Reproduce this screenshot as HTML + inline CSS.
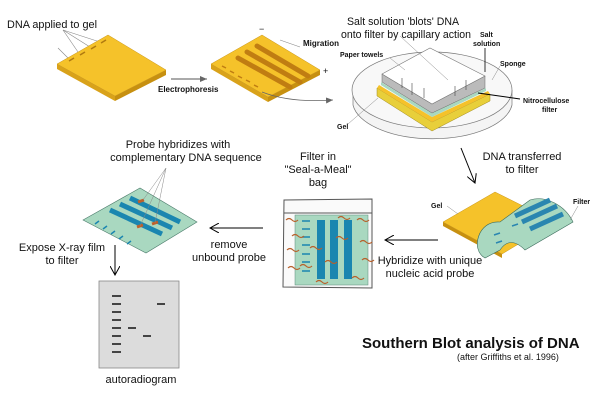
<!DOCTYPE html>
<html><head><meta charset="utf-8"><style>
html,body{margin:0;padding:0;background:#fff;}
svg{display:block;}
text{font-family:"Liberation Sans",sans-serif;fill:#111;}
</style></head><body>
<svg width="600" height="400" viewBox="0 0 600 400" xmlns="http://www.w3.org/2000/svg">
<defs>
<marker id="ah" markerWidth="10" markerHeight="10" refX="9" refY="5" orient="auto" markerUnits="userSpaceOnUse">
<path d="M0,0 L9,5 L0,10" fill="none" stroke="#000" stroke-width="1"/></marker>
<marker id="ahs" markerWidth="8" markerHeight="8" refX="7" refY="4" orient="auto" markerUnits="userSpaceOnUse">
<path d="M0,1 L7,4 L0,7 z" fill="#666"/></marker>
</defs>

<!-- Gel 1 -->
<text x="7" y="28" font-size="11" textLength="90" lengthAdjust="spacingAndGlyphs">DNA applied to gel</text>
<g stroke="#888" stroke-width="0.6">
<line x1="63" y1="30" x2="78" y2="52"/><line x1="63" y1="30" x2="90" y2="47"/><line x1="63" y1="30" x2="100" y2="42"/>
<line x1="58" y1="48" x2="68" y2="58"/>
</g>
<polygon points="57,64 57,69 115,101 115,96" fill="#d9a21a"/>
<polygon points="115,96 115,101 166,75 166,70" fill="#c79010"/>
<polygon points="57,64 108,35 166,70 115,96" fill="#f5c22a" stroke="#c9961a" stroke-width="0.5"/>
<g stroke="#b07a10" stroke-width="1.5"><line x1="69" y1="61" x2="74" y2="58"/><line x1="80" y1="55" x2="85" y2="52"/><line x1="91" y1="49" x2="96" y2="46"/><line x1="101" y1="43" x2="106" y2="40"/></g>
<line x1="171" y1="79" x2="207" y2="79" stroke="#555" stroke-width="1" marker-end="url(#ahs)"/>
<text x="158" y="92" font-size="8" font-weight="bold">Electrophoresis</text>

<!-- Gel 2 -->
<polygon points="211,64 211,69 268,102 268,97" fill="#d9a21a"/>
<polygon points="268,97 268,102 320,75 320,70" fill="#c79010"/>
<polygon points="211,64 262,35 320,70 268,97" fill="#f5c22a" stroke="#c9961a" stroke-width="0.5"/>
<g stroke="#c07d12" stroke-width="5" stroke-linecap="round">
<line x1="238" y1="58" x2="290" y2="87"/><line x1="247" y1="52" x2="300" y2="82"/><line x1="257" y1="46" x2="308" y2="76"/>
</g>
<g stroke="#c07d12" stroke-width="1.5"><line x1="222" y1="66" x2="226" y2="68"/><line x1="230" y1="71" x2="234" y2="73"/><line x1="238" y1="76" x2="242" y2="78"/><line x1="246" y1="80" x2="250" y2="82"/><line x1="254" y1="85" x2="258" y2="87"/></g>
<text x="259" y="32" font-size="9">−</text>
<text x="303" y="46" font-size="8" font-weight="bold">Migration</text>
<line x1="280" y1="40" x2="300" y2="47" stroke="#888" stroke-width="0.6"/>
<text x="323" y="74" font-size="9">+</text>
<path d="M262,92 Q290,103 333,100" fill="none" stroke="#666" stroke-width="0.8" marker-end="url(#ahs)"/>

<!-- Blot apparatus -->
<path d="M353,90 L353,105 A80,38 0 0 0 512,105 L512,90" fill="#f4f4f4" stroke="#777" stroke-width="0.7"/>
<ellipse cx="432" cy="90" rx="80" ry="38" fill="#f8f8f8" stroke="#777" stroke-width="0.7"/>
<polygon points="377,88 432,122 490,94 490,101 432,131 377,96" fill="#e8cf3a" stroke="#a08a20" stroke-width="0.5"/>
<polygon points="379,85 432,117 488,91 490,94 432,122 377,88" fill="#f5c22a"/>
<polygon points="381,82 432,113 486,88 486,91 432,117 381,85" fill="#a9d8c0"/>
<polygon points="382,74 432,104 485,76 485,88 432,113 382,82" fill="#bbb" stroke="#666" stroke-width="0.5"/>
<polygon points="382,74 430,48 485,76 432,104" fill="#fff" stroke="#777" stroke-width="0.6"/>
<g stroke="#444" stroke-width="0.6">
<line x1="402" y1="88" x2="402" y2="78"/><line x1="412" y1="95" x2="412" y2="83"/><line x1="424" y1="98" x2="424" y2="88"/><line x1="455" y1="96" x2="455" y2="86"/><line x1="466" y1="90" x2="466" y2="80"/>
</g>
<text x="347" y="25" font-size="11" textLength="112" lengthAdjust="spacingAndGlyphs">Salt solution 'blots' DNA</text>
<text x="341" y="38" font-size="11" textLength="130" lengthAdjust="spacingAndGlyphs">onto filter by capillary action</text>
<line x1="400" y1="36" x2="448" y2="80" stroke="#888" stroke-width="0.5"/>
<text x="480" y="37" font-size="7" font-weight="bold">Salt</text>
<text x="473" y="46" font-size="7" font-weight="bold">solution</text>
<line x1="485" y1="48" x2="485" y2="72" stroke="#000" stroke-width="0.8"/>
<text x="340" y="57" font-size="7" font-weight="bold">Paper towels</text>
<line x1="390" y1="58" x2="405" y2="70" stroke="#888" stroke-width="0.5"/>
<text x="500" y="66" font-size="7" font-weight="bold">Sponge</text>
<line x1="500" y1="66" x2="492" y2="80" stroke="#888" stroke-width="0.5"/>
<text x="523" y="103" font-size="7" font-weight="bold">Nitrocellulose</text>
<text x="542" y="112" font-size="7" font-weight="bold">filter</text>
<line x1="478" y1="93" x2="520" y2="99" stroke="#000" stroke-width="1"/>
<text x="337" y="129" font-size="7" font-weight="bold">Gel</text>
<line x1="348" y1="124" x2="378" y2="98" stroke="#888" stroke-width="0.5"/>

<!-- DNA transferred -->
<line x1="461" y1="148" x2="475" y2="183" stroke="#000" stroke-width="1" marker-end="url(#ah)"/>
<text x="522" y="160" font-size="11" text-anchor="middle">DNA transferred</text>
<text x="522" y="173" font-size="11" text-anchor="middle">to filter</text>

<!-- gel + filter lift -->
<polygon points="443,222 443,226 502,258 502,254" fill="#c79010"/>
<polygon points="443,222 495,192 555,222 502,254" fill="#f5c22a" stroke="#c9961a" stroke-width="0.5"/>
<path d="M485,258 C470,250 478,220 500,222 L530,200 C545,195 565,205 573,222 L525,250 Q510,235 500,250 Z" fill="#a9d8c0" stroke="#3a6a5a" stroke-width="0.6"/>
<g stroke="#2a86b0" stroke-width="5"><line x1="515" y1="216" x2="550" y2="200"/><line x1="522" y1="222" x2="557" y2="206"/><line x1="530" y1="229" x2="563" y2="214"/></g>
<g stroke="#2a86b0" stroke-width="1.5"><line x1="494" y1="235" x2="500" y2="233"/><line x1="496" y1="243" x2="502" y2="241"/><line x1="512" y1="226" x2="518" y2="224"/></g>
<text x="431" y="208" font-size="7" font-weight="bold">Gel</text>
<line x1="447" y1="206" x2="458" y2="214" stroke="#888" stroke-width="0.5"/>
<text x="573" y="204" font-size="7" font-weight="bold">Filter</text>
<line x1="578" y1="206" x2="570" y2="220" stroke="#888" stroke-width="0.5"/>

<line x1="438" y1="240" x2="385" y2="240" stroke="#000" stroke-width="1" marker-end="url(#ah)"/>
<text x="430" y="264" font-size="11" text-anchor="middle">Hybridize with unique</text>
<text x="430" y="277" font-size="11" text-anchor="middle">nucleic acid probe</text>

<!-- Bag -->
<text x="318" y="160" font-size="11" text-anchor="middle">Filter in</text>
<text x="318" y="173" font-size="11" text-anchor="middle">"Seal-a-Meal"</text>
<text x="318" y="186" font-size="11" text-anchor="middle">bag</text>
<path d="M284,200 L372,199 L372,288 L283,287 Z" fill="#fafafa" stroke="#555" stroke-width="1"/>
<line x1="284" y1="213" x2="372" y2="213" stroke="#555" stroke-width="1"/>
<rect x="295" y="215" width="73" height="70" fill="#a9d8c0" stroke="#5a8a7a" stroke-width="0.5"/>
<g fill="#1a86b0"><rect x="317" y="220" width="8" height="59"/><rect x="330" y="220" width="8" height="59"/><rect x="344" y="220" width="8" height="59"/></g>
<g stroke="#1a86b0" stroke-width="1.5"><line x1="302" y1="221" x2="310" y2="221"/><line x1="302" y1="229" x2="310" y2="229"/><line x1="302" y1="237" x2="310" y2="237"/><line x1="302" y1="245" x2="310" y2="245"/><line x1="302" y1="254" x2="310" y2="254"/><line x1="302" y1="262" x2="310" y2="262"/><line x1="302" y1="271" x2="310" y2="271"/></g>
<g fill="none" stroke="#b8602a" stroke-width="1.2">
<path d="M286,220 q3,-3 6,0 q3,3 6,0"/><path d="M292,236 q3,-3 6,0 q3,3 6,0"/><path d="M287,250 q3,-3 6,0 q3,3 6,0"/><path d="M288,268 q3,-3 6,0 q3,3 6,0"/><path d="M300,266 q3,-3 6,0 q3,3 6,0"/><path d="M310,248 q3,-3 6,0 q3,3 6,0"/><path d="M338,218 q3,-3 6,0 q3,3 6,0"/><path d="M357,220 q3,-3 6,0 q3,3 6,0"/><path d="M336,238 q3,-3 6,0 q3,3 6,0"/><path d="M360,242 q3,-3 6,0 q3,3 6,0"/><path d="M325,262 q3,-3 6,0 q3,3 6,0"/><path d="M362,260 q3,-3 6,0 q3,3 6,0"/><path d="M316,282 q3,-3 6,0 q3,3 6,0"/><path d="M352,278 q3,-3 6,0 q3,3 6,0"/></g>

<line x1="263" y1="228" x2="210" y2="228" stroke="#000" stroke-width="1" marker-end="url(#ah)"/>
<text x="229" y="248" font-size="11" text-anchor="middle">remove</text>
<text x="229" y="261" font-size="11" text-anchor="middle">unbound probe</text>

<!-- probe filter -->
<text x="178" y="148" font-size="11" text-anchor="middle">Probe hybridizes with</text>
<text x="186" y="161" font-size="11" text-anchor="middle">complementary DNA sequence</text>
<polygon points="83,220 140,188 197,222 146,253" fill="#a9d8c0" stroke="#4a7a6a" stroke-width="0.6"/>
<g stroke="#1a86b0" stroke-width="5"><line x1="110" y1="210" x2="162" y2="234"/><line x1="120" y1="204" x2="172" y2="228"/><line x1="130" y1="198" x2="180" y2="222"/></g>
<g stroke="#1a86b0" stroke-width="1.5"><line x1="95" y1="224" x2="99" y2="221"/><line x1="103" y1="229" x2="107" y2="226"/><line x1="111" y1="234" x2="115" y2="231"/><line x1="119" y1="239" x2="123" y2="236"/><line x1="127" y1="244" x2="131" y2="241"/></g>
<g stroke="#c0602a" stroke-width="3"><line x1="138" y1="202" x2="144" y2="200"/><line x1="137" y1="227" x2="143" y2="225"/><line x1="152" y1="224" x2="158" y2="222"/></g>
<g stroke="#888" stroke-width="0.5"><line x1="166" y1="168" x2="140" y2="226"/><line x1="166" y1="168" x2="155" y2="223"/><line x1="166" y1="168" x2="143" y2="200"/></g>

<text x="62" y="251" font-size="11" text-anchor="middle">Expose X-ray film</text>
<text x="62" y="264" font-size="11" text-anchor="middle">to filter</text>
<line x1="115" y1="245" x2="115" y2="275" stroke="#000" stroke-width="1" marker-end="url(#ah)"/>

<!-- autoradiogram -->
<rect x="99" y="281" width="80" height="87" fill="#dcdcdc" stroke="#888" stroke-width="0.8"/>
<g stroke="#111" stroke-width="1.5">
<line x1="112" y1="296" x2="121" y2="296"/><line x1="112" y1="304" x2="121" y2="304"/><line x1="112" y1="312" x2="121" y2="312"/><line x1="112" y1="320" x2="121" y2="320"/><line x1="112" y1="328" x2="121" y2="328"/><line x1="112" y1="336" x2="121" y2="336"/><line x1="112" y1="344" x2="121" y2="344"/><line x1="112" y1="352" x2="121" y2="352"/>
<line x1="128" y1="328" x2="136" y2="328"/><line x1="143" y1="336" x2="151" y2="336"/><line x1="157" y1="304" x2="165" y2="304"/></g>
<text x="141" y="383" font-size="11" text-anchor="middle">autoradiogram</text>

<text x="362" y="348" font-size="15" font-weight="bold">Southern Blot analysis of DNA</text>
<text x="457" y="360" font-size="9">(after Griffiths et al. 1996)</text>
</svg>
</body></html>
